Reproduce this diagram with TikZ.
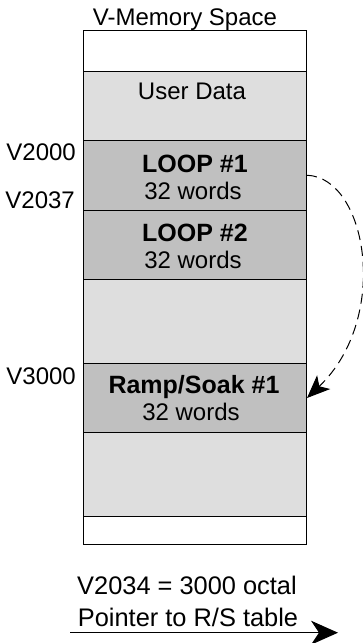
\documentclass[tikz,border=0pt]{standalone}
\usepackage{fontspec}
\setmainfont{Liberation Sans}
\usepackage{xcolor}
\usetikzlibrary{arrows.meta,positioning}

\definecolor{memlight}{RGB}{222,222,222}
\definecolor{memdark}{RGB}{192,192,192}

\begin{document}
\begin{tikzpicture}[x=1pt, y=-1pt,
  memrow/.style={rectangle, draw, line width=1pt, minimum width=222.7pt,
                 anchor=north west, inner sep=0pt, fill=white},
  lightrow/.style={memrow, fill=memlight},
  darkrow/.style={memrow, fill=memdark},
  txt/.style={font=\fontsize{24}{28}\selectfont, inner sep=0pt, anchor=base},
  note/.style={font=\fontsize{25.4}{29}\selectfont, inner sep=0pt, anchor=base},
  head/.style={font=\fontsize{25}{29}\selectfont\bfseries, inner sep=0pt, anchor=base},
  addr/.style={font=\fontsize{24}{28}\selectfont, inner sep=0pt, anchor=base east},
  ptr/.style={draw, line width=1pt, dash pattern=on 10pt off 6pt,
              -{Stealth[length=23pt, width=19pt, inset=6pt]}},
]
  \useasboundingbox (0,0) rectangle (363,643);

  % Title
  \node[txt] (title) at (185,25) {V-Memory Space};

  % Memory rows (top to bottom)
  \node[memrow,   minimum height=41pt]   (r0)    at (83.3,30)    {};
  \node[lightrow, minimum height=69pt]   (user)  at (83.3,71)    {};
  \node[darkrow,  minimum height=69.5pt] (loop1) at (83.3,140)   {};
  \node[darkrow,  minimum height=69.5pt] (loop2) at (83.3,209.5) {};
  \node[lightrow, minimum height=84pt]   (free1) at (83.3,279)   {};
  \node[darkrow,  minimum height=69pt]   (ramp)  at (83.3,363)   {};
  \node[lightrow, minimum height=84pt]   (free2) at (83.3,432)   {};
  \node[memrow,   minimum height=28pt]   (r7)    at (83.3,516)   {};

  % Row texts
  \node[txt]  (userlbl)  at (192,99)    {User Data};
  \node[head] (loop1lbl) at (195,172.7) {LOOP \#1};
  \node[txt]  (loop1sz)  at (193,199.3) {32 words};
  \node[head] (loop2lbl) at (195,241)   {LOOP \#2};
  \node[txt]  (loop2sz)  at (193,268.3) {32 words};
  \node[head] (ramplbl)  at (194,393.3) {Ramp/Soak \#1};
  \node[txt]  (rampsz)   at (191,420.7) {32 words};

  % Addresses
  \node[addr] (a2000) at (76,160.7) {V2000};
  \node[addr] (a2037) at (75,208.3) {V2037};
  \node[addr] (a3000) at (76,384)   {V3000};

  % Pointer from loop table to ramp/soak table
  \draw[ptr] (loop1.east) .. controls +(60,2) and +(84,-80) .. (ramp.east);

  % Pointer note
  \node[note] (ptrval) at (187,594.3) {V2034 = 3000 octal};
  \node[note] (ptrtxt) at (188,626.7) {Pointer to R/S table};
  \coordinate (ptrL) at (70,632.7);
  \coordinate (ptrR) at (338,632.7);
  \draw[line width=1pt, -{Stealth[length=27pt, width=24pt, inset=8pt]}] (ptrL) -- (ptrR);

\end{tikzpicture}
\end{document}
